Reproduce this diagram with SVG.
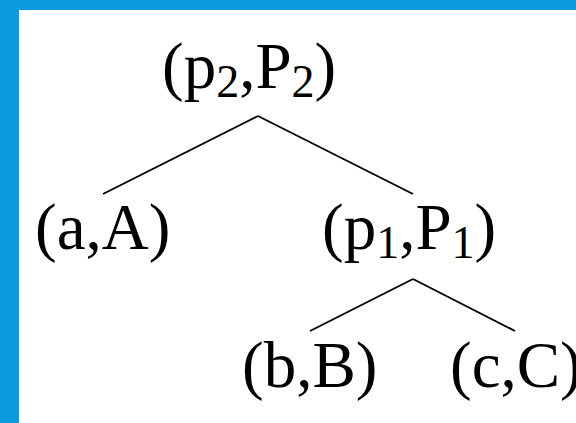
<svg xmlns="http://www.w3.org/2000/svg" width="576" height="423" viewBox="0 0 576 423">
<style>
.lbl{font-family:"Liberation Serif","Times New Roman",serif;font-size:65px;fill:#000}
.sub{font-size:46px}
.edge{stroke:#000;stroke-width:1.9;fill:none;stroke-linecap:butt}
</style>
<rect x="0" y="0" width="576" height="423" fill="#ffffff"/>
<rect x="0" y="0" width="576" height="10" fill="#0a9ade"/>
<rect x="0" y="0" width="19" height="423" fill="#0a9ade"/>
<g id="connectors">
<line class="edge" x1="258" y1="116" x2="103" y2="194"/>
<line class="edge" x1="258" y1="116" x2="413" y2="194"/>
<line class="edge" x1="413" y1="279" x2="310" y2="331"/>
<line class="edge" x1="413" y1="279" x2="515" y2="331"/>
</g>
<g id="node-p2"><text class="lbl" x="162" y="88">(p<tspan class="sub" dy="9">2</tspan><tspan dy="-9">,P</tspan><tspan class="sub" dy="9">2</tspan><tspan dy="-9">)</tspan></text></g>
<g id="node-a"><text class="lbl" x="35" y="249">(a,A)</text></g>
<g id="node-p1"><text class="lbl" x="322" y="249">(p<tspan class="sub" dy="9">1</tspan><tspan dy="-9">,P</tspan><tspan class="sub" dy="9">1</tspan><tspan dy="-9">)</tspan></text></g>
<g id="node-b"><text class="lbl" x="242" y="387">(b,B)</text></g>
<g id="node-c"><text class="lbl" x="450" y="387">(c,C)</text></g>
</svg>
